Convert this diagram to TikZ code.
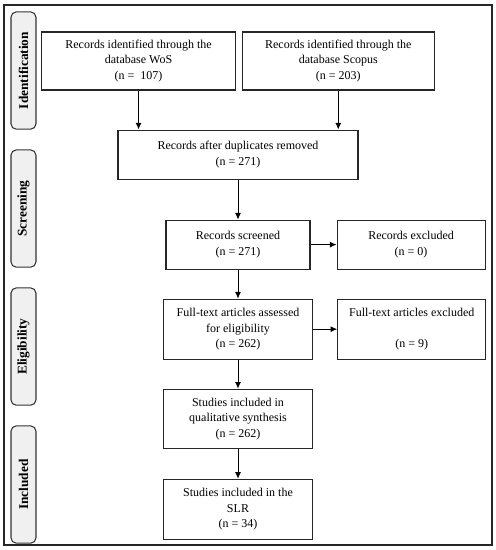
\documentclass[tikz,border=0pt]{standalone}
\usepackage{fontspec}
\setmainfont{Liberation Serif}
\usepackage{tikz}
\usetikzlibrary{shapes,arrows.meta,positioning}

\begin{document}
\begin{tikzpicture}[align=center,
        node distance=30pt and 19.5pt,
        box/.style={draw=black!85, line width=0.8pt, fill=white, inner sep=2pt,
            font=\fontsize{9}{11.6}\selectfont},
        phase/.style={draw=black!80, line width=0.8pt, fill=black!6, rounded corners=4pt,
            rotate=90, minimum width=88pt, minimum height=18.75pt,
            font=\bfseries\fontsize{10}{12}\selectfont},
        every edge/.style={draw, line width=0.7pt, -{Latex[length=5pt,width=4.5pt]}}]
        \useasboundingbox (0,0) rectangle (372pt,-412.5pt);
        \draw[line width=0.8pt, black!85] (3pt,-3.75pt) rectangle (369pt,-408.75pt);

        % Place phases
        \node [phase] (ident) at (17.6pt,-52.9pt) {Identification};
        \node [phase] (screen) at (17.6pt,-156.4pt) {Screening};
        \node [phase] (elig) at (17.6pt,-259.9pt) {Eligibility};
        \node [phase] (incl) at (17.6pt,-363.4pt) {Included};

        % Place nodes
        \node [box, minimum width=145pt, minimum height=43.5pt] (wos) at (103.9pt,-45.75pt)
            {Records identified through the\\database WoS\\(n =\ \ 107)};
        \node [box, right=4.5pt of wos, minimum width=144pt, minimum height=43.5pt] (scopus)
            {Records identified through the\\database Scopus\\(n = 203)};
        \node [box, minimum width=180pt, minimum height=36.75pt] (dup) at (178.5pt,-115.9pt)
            {Records after duplicates removed\\(n = 271)};
        \node [box, below=of dup, minimum width=108pt, minimum height=36.75pt] (screened)
            {Records screened\\(n = 271)};
        \node [box, right=of screened, minimum width=111pt, minimum height=36.75pt] (excluded)
            {Records excluded\\(n = 0)};
        \node [box, below=21.75pt of screened, minimum width=112pt, minimum height=45pt] (fulltext)
            {Full-text articles assessed\\for eligibility\\(n = 262)};
        \node [box, right=18pt of fulltext, minimum width=111pt, minimum height=45pt] (ftexcl)
            {Full-text articles excluded\\~\\(n = 9)};
        \node [box, below=21.75pt of fulltext, minimum width=112pt, minimum height=44.25pt] (qual)
            {Studies included in\\qualitative synthesis\\(n = 262)};
        \node [box, below=22.5pt of qual, minimum width=112pt, minimum height=45pt] (slr)
            {Studies included in the\\SLR\\(n = 34)};

        % Draw edges
        \path
        (wos.south) edge (wos.south |- dup.north)
        (scopus.south) edge (scopus.south |- dup.north)
        (dup) edge (screened)
        (screened) edge (excluded)
            edge (fulltext)
        (fulltext) edge (ftexcl)
            edge (qual)
        (qual) edge (slr);

    \end{tikzpicture}
\end{document}
